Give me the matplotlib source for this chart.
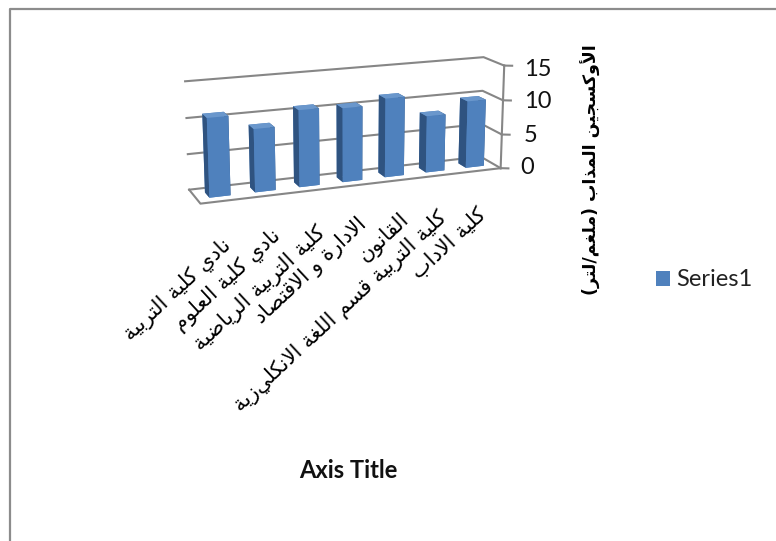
import matplotlib
matplotlib.use('Agg')
import matplotlib.pyplot as plt
from matplotlib.lines import Line2D
from matplotlib.patches import Patch

categories = ['نادي كلية التربية', 'نادي كلية العلوم', 'كلية التربية الرياضية',
              'الادارة و الاقتصاد', 'القانون',
              'كلية التربية قسم اللغة الانكليزية', 'كلية الاداب']
values = [10.9, 8.8, 10.8, 10.5, 11.3, 8.2, 9.8]
zticks = [0, 5, 10, 15]
ylabel_text = 'الأوكسجين المذاب (ملغم/لتر)'
xlabel_text = 'Axis Title'
series_name = 'Series1'

# first code point of (isolated, final, initial, medial) presentation forms
FORMS = {'ب': 0xFE8F, 'ت': 0xFE95, 'ج': 0xFE9D, 'س': 0xFEB1, 'ص': 0xFEB9,
         'ض': 0xFEBD, 'ع': 0xFEC9, 'غ': 0xFECD, 'ف': 0xFED1, 'ق': 0xFED5,
         'ك': 0xFED9, 'ل': 0xFEDD, 'م': 0xFEE1, 'ن': 0xFEE5, 'ه': 0xFEE9,
         'ي': 0xFEF1}
# letters that never join the next one: (isolated, final)
RIGHT_ONLY = {'ا': 0xFE8D, 'أ': 0xFE83, 'إ': 0xFE87, 'آ': 0xFE81, 'ة': 0xFE93,
              'د': 0xFEA9, 'ذ': 0xFEAB, 'ر': 0xFEAD, 'و': 0xFEED}
LAM_ALEF = {'ا': 0xFEFB, 'أ': 0xFEF7, 'إ': 0xFEF9, 'آ': 0xFEF5}
MIRROR = {'(': ')', ')': '('}


def shape(text):
    # matplotlib has no Arabic shaping, so pick the joined glyphs by hand
    # and reverse into visual order
    out = []
    i = 0
    joins_prev = False
    while i < len(text):
        c = text[i]
        nxt = text[i + 1] if i + 1 < len(text) else ''
        if c == 'ل' and nxt in LAM_ALEF:
            out.append(chr(LAM_ALEF[nxt] + (1 if joins_prev else 0)))
            joins_prev = False
            i += 2
        elif c in RIGHT_ONLY:
            out.append(chr(RIGHT_ONLY[c] + (1 if joins_prev else 0)))
            joins_prev = False
            i += 1
        elif c in FORMS:
            joins_next = nxt in FORMS or nxt in RIGHT_ONLY
            if joins_prev:
                offset = 3 if joins_next else 1
            else:
                offset = 2 if joins_next else 0
            out.append(chr(FORMS[c] + offset))
            joins_prev = joins_next
            i += 1
        else:
            out.append(MIRROR.get(c, c))
            joins_prev = False
            i += 1
    return ''.join(reversed(out))


W, H = 776, 541
line_col = '#868686'
front_col = '#4F81BD'
side_col = '#2F5380'
top_col = '#6A97CC'
arabic = ['DejaVu Sans']

# top right end of each rotated category label, in pixels from the top left
label_px = [(221, 235), (271, 225), (316, 222), (357, 214), (399, 209), (437, 207), (476, 204)]
tick_px = {0: (520, 168), 5: (524, 135), 10: (524, 101), 15: (524, 69)}

fig = plt.figure(figsize=(W / 100, H / 100), dpi=100, facecolor='white')

# grey chart border, open at the bottom and on the right
fig.add_artist(Line2D([9.5 / W, 9.5 / W, 1], [0, 1 - 8.5 / H, 1 - 8.5 / H],
                      color='#8c8c8c', lw=1.6))

# mplot3d keeps a square box, so use a big square centred on the plot
side = 700
cx, cy = 340, 136
ax = fig.add_axes([(cx - side / 2) / W, 1 - (cy + side / 2) / H, side / W, side / H],
                  projection='3d', proj_type='persp', focal_length=0.31)
ax.view_init(elev=15, azim=-111)
n = len(categories)
ax.set_xlim(0, n, view_margin=0)
ax.set_ylim(0, 1, view_margin=0)
ax.set_zlim(0, 15, view_margin=0)
ax.set_box_aspect((302, 43, 103), zoom=0.473)
ax.set_axis_off()
ax.patch.set_alpha(0)

# walls and floor
for v in zticks:
    ax.plot([0, n, n], [1, 1, 0], [v, v, v], color=line_col, lw=1.5)
    ax.plot([n, n + 0.157], [0, -0.078], [v, v], color=line_col, lw=1.5)
ax.plot([0, 0, n], [1, 0, 0], [0, 0, 0], color=line_col, lw=1.5)
ax.plot([n, n], [0, 0], [0, 15], color=line_col, lw=1.5)

# one box per category, faces ordered bottom, top, front, back, left, right
for i, v in enumerate(values):
    ax.bar3d(i + 0.27, 0.31, 0, 0.46, 0.38, v, shade=False,
             color=[front_col, top_col, front_col, front_col, side_col, side_col])

for v in zticks:
    px, py = tick_px[v]
    fig.text(px / W, 1 - py / H, str(v), fontsize=17, family='Lato',
             ha='left', va='center', color='#111111')

for name, (px, py) in zip(categories, label_px):
    fig.text(px / W, 1 - py / H, shape(name), fontsize=15, family=arabic,
             rotation=43, rotation_mode='anchor', ha='right', va='top',
             color='black')

fig.text(591 / W, 1 - 170 / H, shape(ylabel_text), fontsize=12.5, family=arabic,
         fontweight='bold', rotation=90, ha='center', va='center', color='black')
fig.text(348 / W, 1 - 471 / H, xlabel_text, fontsize=17, family='Lato',
         fontweight='bold', ha='center', va='center', color='#111111')

fig.legend(handles=[Patch(facecolor=front_col, label=series_name)],
           loc='center left', bbox_to_anchor=(635 / W, 1 - 280 / H),
           frameon=False, handlelength=0.6, handleheight=0.6, handletextpad=0.25,
           prop={'family': 'Lato', 'size': 17}, labelcolor='#222222')

fig.savefig('out.png', dpi=100)
